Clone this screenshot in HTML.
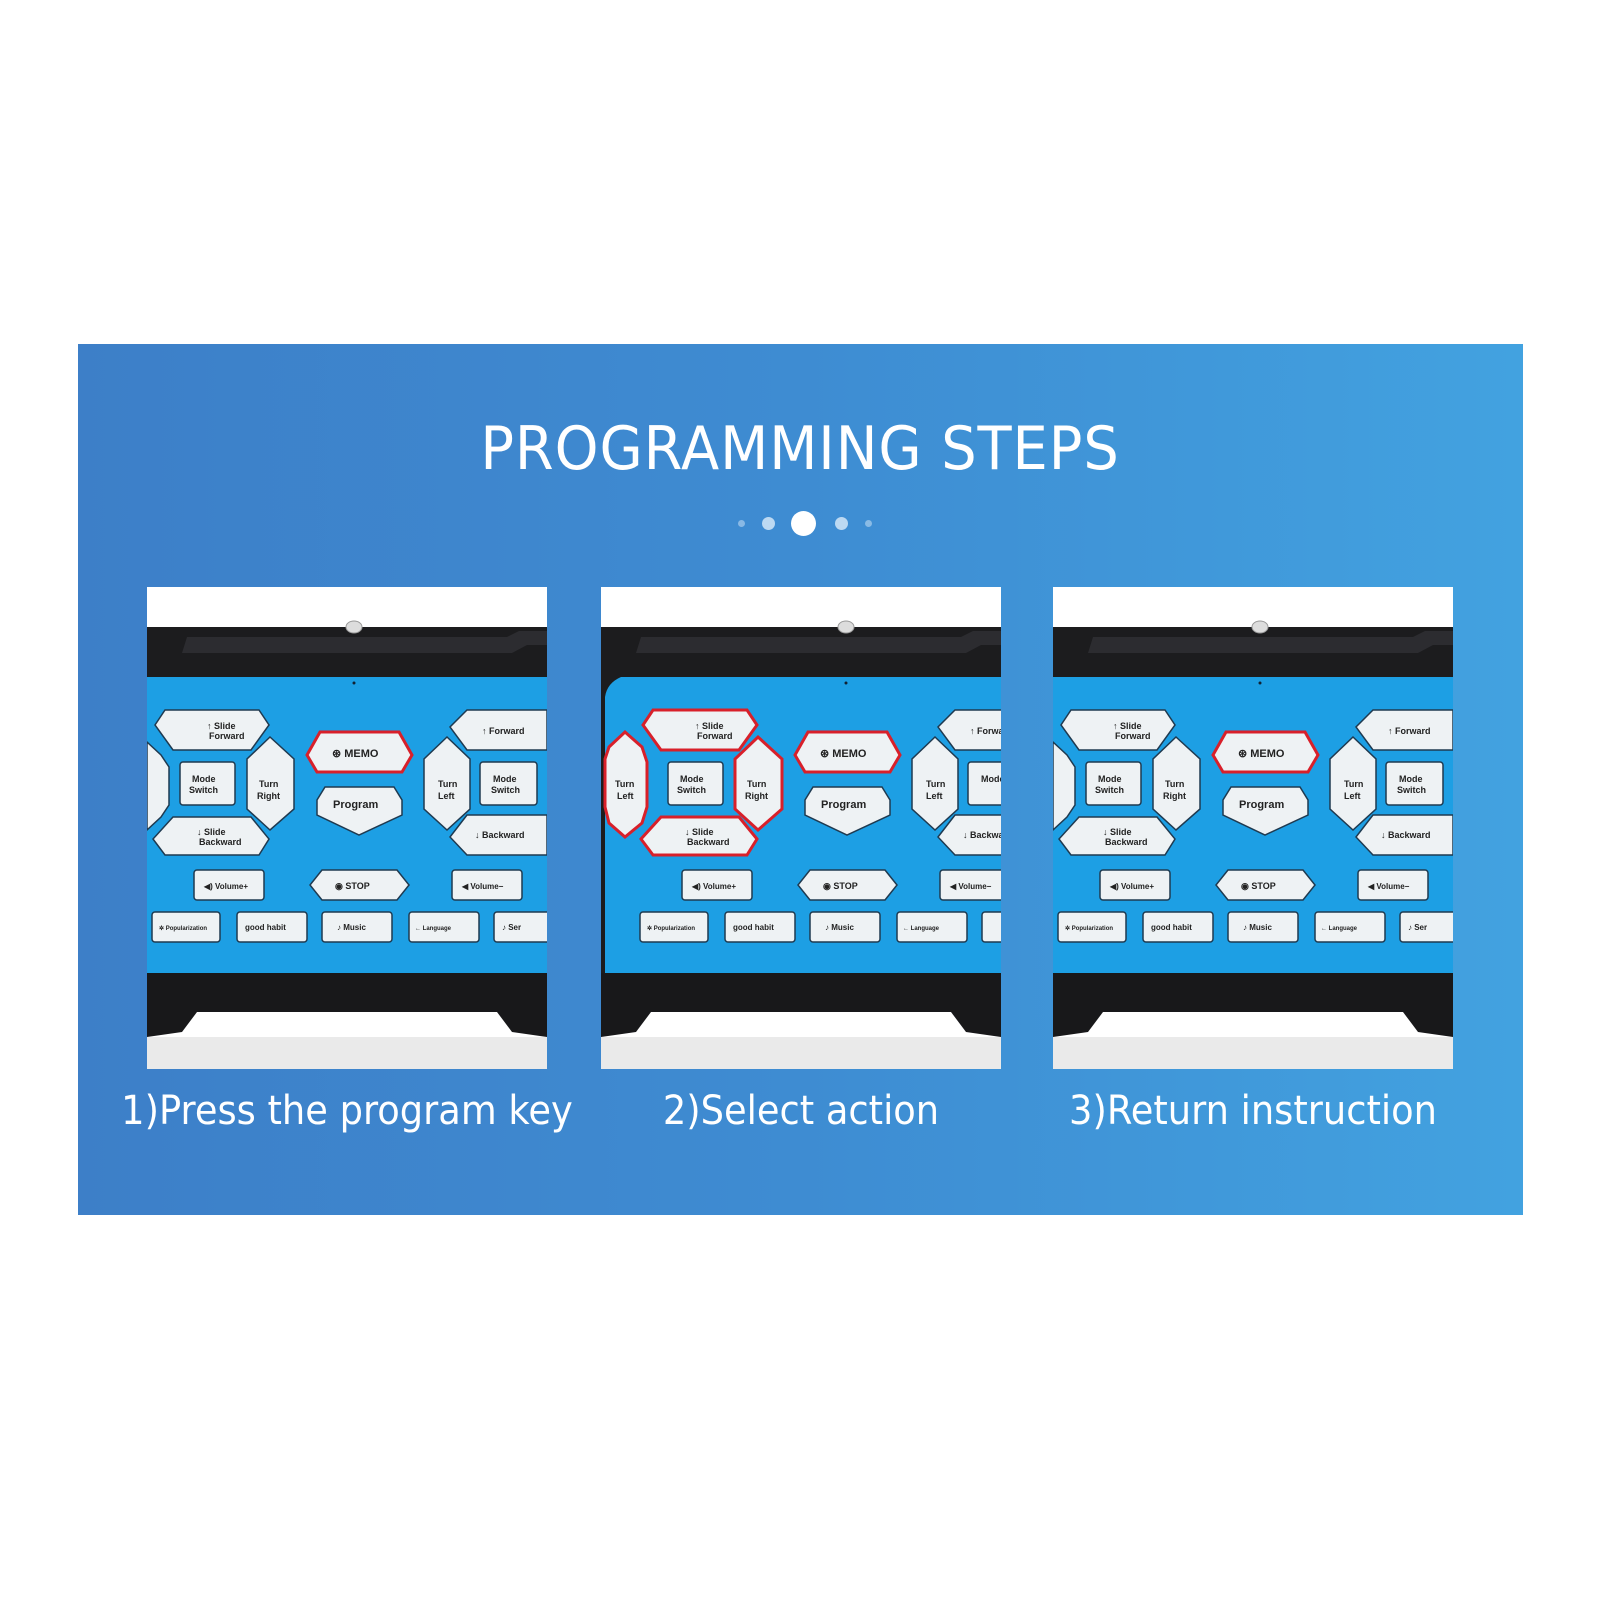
<!DOCTYPE html>
<html><head><meta charset="utf-8"><style>
html,body{margin:0;padding:0;background:#fff;width:1600px;height:1600px;overflow:hidden;font-family:"Liberation Sans",sans-serif}
#panel{position:absolute;left:78px;top:344px;width:1445px;height:871px;background:linear-gradient(90deg,#3d7fc8 0%,#3e8cd2 50%,#42a2e0 100%)}
.title{position:absolute;left:0;width:1600px;top:414px;text-align:center;color:#fff;font-size:60px;letter-spacing:1px;font-family:"DejaVu Sans","Liberation Sans",sans-serif;font-weight:normal;transform:scaleX(0.93)}
.cap{position:absolute;top:1088px;color:#fff;font-size:40px;font-family:"DejaVu Sans","Liberation Sans",sans-serif;white-space:nowrap;text-align:center;transform:scaleX(0.92)}
.ph{position:absolute;top:587px;width:400px;height:482px;overflow:hidden}
.dot{position:absolute;border-radius:50%;background:#bcd9f2}
</style></head><body>
<div id="panel"></div>
<div class="title">PROGRAMMING STEPS</div>
<div class="dot" style="left:738px;top:520px;width:7px;height:7px;opacity:.6"></div>
<div class="dot" style="left:762px;top:517px;width:13px;height:13px"></div>
<div class="dot" style="left:791px;top:511px;width:25px;height:25px;background:#fff"></div>
<div class="dot" style="left:835px;top:517px;width:13px;height:13px"></div>
<div class="dot" style="left:865px;top:520px;width:7px;height:7px;opacity:.6"></div>

<!-- Panel 1 -->
<div class="ph" style="left:147px">
<svg width="400" height="482" viewBox="0 0 400 482" font-family="Liberation Sans,sans-serif" font-weight="bold" font-size="9" fill="#222">
<rect width="400" height="482" fill="#fff"/>
<rect y="40" width="400" height="52" fill="#1c1c1e"/>
<path d="M40 50 L360 50 L372 44 L400 44 L400 58 L380 58 L365 66 L35 66 Z" fill="#2c2c30"/>
<ellipse cx="207" cy="40" rx="8" ry="6" fill="#ddd" stroke="#999"/>
<rect y="90" width="400" height="298" fill="#1d9fe4"/>
<path d="M0 386 L400 386 L400 450 L365 445 L350 425 L50 425 L35 445 L0 450 Z" fill="#18181a"/>
<rect y="450" width="400" height="32" fill="#eaeaea"/>
<circle cx="207" cy="96" r="1.5" fill="#123"/>
<g fill="#eef2f4" stroke="#1f3a50" stroke-width="1.5">
<polygon points="18,123 112,123 122,138 104,163 26,163 8,138"/>
<polygon points="0,155 14,168 22,180 22,218 14,230 0,243"/>
<rect x="33" y="175" width="55" height="43" rx="3"/>
<polygon points="123,150 147,172 147,222 123,243 100,222 100,172"/>
<polygon points="26,230 104,230 122,252 112,268 18,268 6,252"/>
<polygon points="173,145 252,145 265,168 255,185 170,185 160,168" stroke="#d8202a" stroke-width="3"/>
<polygon points="178,200 247,200 255,213 255,228 212,248 170,228 170,213"/>
<polygon points="300,150 323,172 323,222 300,243 277,222 277,172"/>
<rect x="333" y="175" width="57" height="43" rx="3"/>
<polygon points="320,123 400,123 400,163 320,163 303,140"/>
<polygon points="320,228 400,228 400,268 320,268 303,250"/>
<rect x="47" y="283" width="70" height="30" rx="3"/>
<polygon points="175,283 250,283 262,298 250,313 175,313 163,298"/>
<rect x="305" y="283" width="70" height="30" rx="3"/>
<rect x="5" y="325" width="68" height="30" rx="3"/>
<rect x="90" y="325" width="70" height="30" rx="3"/>
<rect x="175" y="325" width="70" height="30" rx="3"/>
<rect x="262" y="325" width="70" height="30" rx="3"/>
<rect x="347" y="325" width="60" height="30" rx="3"/>
</g>
<text x="60" y="142">↑ Slide</text><text x="62" y="152">Forward</text>
<text x="45" y="195">Mode</text><text x="42" y="206">Switch</text>
<text x="112" y="200">Turn</text><text x="110" y="212">Right</text>
<text x="50" y="248">↓ Slide</text><text x="52" y="258">Backward</text>
<text x="185" y="170" font-size="11">⊛ MEMO</text>
<text x="186" y="221" font-size="11">Program</text>
<text x="291" y="200">Turn</text><text x="291" y="212">Left</text>
<text x="346" y="195">Mode</text><text x="344" y="206">Switch</text>
<text x="335" y="147">↑ Forward</text><text x="328" y="251">↓ Backward</text>
<text x="57" y="302" font-size="8">◀) Volume+</text>
<text x="188" y="302">◉ STOP</text>
<text x="315" y="302" font-size="8">◀ Volume−</text>
<text x="12" y="343" font-size="6">✲ Popularization</text>
<text x="98" y="343" font-size="8">good habit</text>
<text x="190" y="343" font-size="8">♪ Music</text>
<text x="268" y="343" font-size="6">← Language</text>
<text x="355" y="343" font-size="8">♪ Ser</text>
</svg></div>

<!-- Panel 2 -->
<div class="ph" style="left:601px">
<svg width="400" height="482" viewBox="0 0 400 482" font-family="Liberation Sans,sans-serif" font-weight="bold" font-size="9" fill="#222">
<rect width="400" height="482" fill="#fff"/>
<rect y="40" width="400" height="52" fill="#1c1c1e"/>
<path d="M40 50 L360 50 L372 44 L400 44 L400 58 L380 58 L365 66 L35 66 Z" fill="#2c2c30"/>
<ellipse cx="245" cy="40" rx="8" ry="6" fill="#ddd" stroke="#999"/>
<path d="M0 90 L400 90 L400 388 L0 388 Z" fill="#1d9fe4"/>
<path d="M0 90 L20 90 Q6 96 4 110 L4 388 L0 388 Z" fill="#1c1c1e"/>
<path d="M0 386 L400 386 L400 450 L365 445 L350 425 L50 425 L35 445 L0 450 Z" fill="#18181a"/>
<rect y="450" width="400" height="32" fill="#eaeaea"/>
<circle cx="245" cy="96" r="1.5" fill="#123"/>
<g transform="translate(34,0)">
<g fill="#eef2f4" stroke="#1f3a50" stroke-width="1.5">
<polygon points="18,123 112,123 122,138 104,163 26,163 8,138" stroke="#d8202a" stroke-width="3"/>
<polygon points="-10,145 7,160 12,175 12,220 7,236 -10,250 -26,236 -30,220 -30,172 -26,160" stroke="#d8202a" stroke-width="3"/>
<rect x="33" y="175" width="55" height="43" rx="3"/>
<polygon points="123,150 147,172 147,222 123,243 100,222 100,172" stroke="#d8202a" stroke-width="3"/>
<polygon points="26,230 104,230 122,252 112,268 18,268 6,252" stroke="#d8202a" stroke-width="3"/>
<polygon points="173,145 252,145 265,168 255,185 170,185 160,168" stroke="#d8202a" stroke-width="3"/>
<polygon points="178,200 247,200 255,213 255,228 212,248 170,228 170,213"/>
<polygon points="300,150 323,172 323,222 300,243 277,222 277,172"/>
<rect x="333" y="175" width="57" height="43" rx="3"/>
<polygon points="320,123 400,123 400,163 320,163 303,140"/>
<polygon points="320,228 400,228 400,268 320,268 303,250"/>
<rect x="47" y="283" width="70" height="30" rx="3"/>
<polygon points="175,283 250,283 262,298 250,313 175,313 163,298"/>
<rect x="305" y="283" width="70" height="30" rx="3"/>
<rect x="5" y="325" width="68" height="30" rx="3"/>
<rect x="90" y="325" width="70" height="30" rx="3"/>
<rect x="175" y="325" width="70" height="30" rx="3"/>
<rect x="262" y="325" width="70" height="30" rx="3"/>
<rect x="347" y="325" width="60" height="30" rx="3"/>
</g>
<text x="60" y="142">↑ Slide</text><text x="62" y="152">Forward</text>
<text x="-20" y="200">Turn</text><text x="-18" y="212">Left</text>
<text x="45" y="195">Mode</text><text x="42" y="206">Switch</text>
<text x="112" y="200">Turn</text><text x="110" y="212">Right</text>
<text x="50" y="248">↓ Slide</text><text x="52" y="258">Backward</text>
<text x="185" y="170" font-size="11">⊛ MEMO</text>
<text x="186" y="221" font-size="11">Program</text>
<text x="291" y="200">Turn</text><text x="291" y="212">Left</text>
<text x="346" y="195">Mode</text><text x="335" y="147">↑ Forward</text><text x="328" y="251">↓ Backward</text>
<text x="57" y="302" font-size="8">◀) Volume+</text>
<text x="188" y="302">◉ STOP</text>
<text x="315" y="302" font-size="8">◀ Volume−</text>
<text x="12" y="343" font-size="6">✲ Popularization</text>
<text x="98" y="343" font-size="8">good habit</text>
<text x="190" y="343" font-size="8">♪ Music</text>
<text x="268" y="343" font-size="6">← Language</text>
</g>
</svg></div>

<!-- Panel 3 -->
<div class="ph" style="left:1053px">
<svg width="400" height="482" viewBox="0 0 400 482" font-family="Liberation Sans,sans-serif" font-weight="bold" font-size="9" fill="#222">
<rect width="400" height="482" fill="#fff"/>
<rect y="40" width="400" height="52" fill="#1c1c1e"/>
<path d="M40 50 L360 50 L372 44 L400 44 L400 58 L380 58 L365 66 L35 66 Z" fill="#2c2c30"/>
<ellipse cx="207" cy="40" rx="8" ry="6" fill="#ddd" stroke="#999"/>
<rect y="90" width="400" height="298" fill="#1d9fe4"/>
<path d="M0 386 L400 386 L400 450 L365 445 L350 425 L50 425 L35 445 L0 450 Z" fill="#18181a"/>
<rect y="450" width="400" height="32" fill="#eaeaea"/>
<circle cx="207" cy="96" r="1.5" fill="#123"/>
<g fill="#eef2f4" stroke="#1f3a50" stroke-width="1.5">
<polygon points="18,123 112,123 122,138 104,163 26,163 8,138"/>
<polygon points="0,155 14,168 22,180 22,218 14,230 0,243"/>
<rect x="33" y="175" width="55" height="43" rx="3"/>
<polygon points="123,150 147,172 147,222 123,243 100,222 100,172"/>
<polygon points="26,230 104,230 122,252 112,268 18,268 6,252"/>
<polygon points="173,145 252,145 265,168 255,185 170,185 160,168" stroke="#d8202a" stroke-width="3"/>
<polygon points="178,200 247,200 255,213 255,228 212,248 170,228 170,213"/>
<polygon points="300,150 323,172 323,222 300,243 277,222 277,172"/>
<rect x="333" y="175" width="57" height="43" rx="3"/>
<polygon points="320,123 400,123 400,163 320,163 303,140"/>
<polygon points="320,228 400,228 400,268 320,268 303,250"/>
<rect x="47" y="283" width="70" height="30" rx="3"/>
<polygon points="175,283 250,283 262,298 250,313 175,313 163,298"/>
<rect x="305" y="283" width="70" height="30" rx="3"/>
<rect x="5" y="325" width="68" height="30" rx="3"/>
<rect x="90" y="325" width="70" height="30" rx="3"/>
<rect x="175" y="325" width="70" height="30" rx="3"/>
<rect x="262" y="325" width="70" height="30" rx="3"/>
<rect x="347" y="325" width="60" height="30" rx="3"/>
</g>
<text x="60" y="142">↑ Slide</text><text x="62" y="152">Forward</text>
<text x="45" y="195">Mode</text><text x="42" y="206">Switch</text>
<text x="112" y="200">Turn</text><text x="110" y="212">Right</text>
<text x="50" y="248">↓ Slide</text><text x="52" y="258">Backward</text>
<text x="185" y="170" font-size="11">⊛ MEMO</text>
<text x="186" y="221" font-size="11">Program</text>
<text x="291" y="200">Turn</text><text x="291" y="212">Left</text>
<text x="346" y="195">Mode</text><text x="344" y="206">Switch</text>
<text x="335" y="147">↑ Forward</text><text x="328" y="251">↓ Backward</text>
<text x="57" y="302" font-size="8">◀) Volume+</text>
<text x="188" y="302">◉ STOP</text>
<text x="315" y="302" font-size="8">◀ Volume−</text>
<text x="12" y="343" font-size="6">✲ Popularization</text>
<text x="98" y="343" font-size="8">good habit</text>
<text x="190" y="343" font-size="8">♪ Music</text>
<text x="268" y="343" font-size="6">← Language</text>
<text x="355" y="343" font-size="8">♪ Ser</text>
</svg></div>

<div class="cap" style="left:97px;width:500px">1)Press the program key</div>
<div class="cap" style="left:551px;width:500px">2)Select action</div>
<div class="cap" style="left:1003px;width:500px">3)Return instruction</div>
</body></html>
